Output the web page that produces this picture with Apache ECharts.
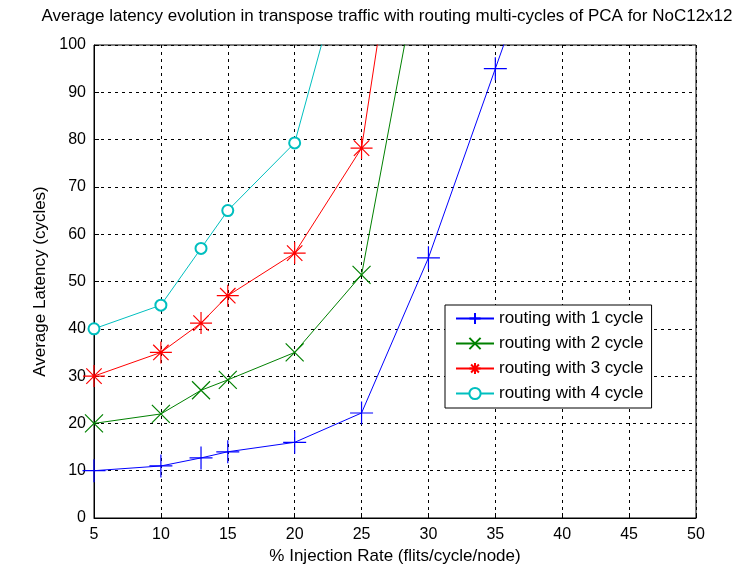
<!DOCTYPE html>
<html>
<head>
<meta charset="utf-8">
<script src="https://cdn.jsdelivr.net/npm/echarts@6/dist/echarts.min.js"></script>
<style>html,body{margin:0;padding:0;background:#fff}#c{width:746px;height:570px}</style>
</head>
<body>
<div id="c"></div>
<script>
const titleText = 'Average latency evolution in transpose traffic with routing multi-cycles of PCA for NoC12x12';
const xName = '% Injection Rate (flits/cycle/node)';
const yName = 'Average Latency (cycles)';
const seriesNames = ['routing with 1 cycle', 'routing with 2 cycle', 'routing with 3 cycle', 'routing with 4 cycle'];
const x1 = [5, 10, 13, 15, 20, 25, 30, 35, 40];
const y1 = [10, 11, 12.7, 14, 16, 22.2, 55, 95, 135];
const x2 = [5, 10, 13, 15, 20, 25, 30];
const y2 = [20, 22, 27, 29.2, 35, 51.4, 127];
const x3 = [5, 10, 13, 15, 20, 25, 30];
const y3 = [30, 35, 41.2, 47, 56, 78.2, 171];
const x4 = [5, 10, 13, 15, 20, 25];
const y4 = [40, 45, 57, 65, 79.3, 131];

const colors = ['#0000ff', '#008000', '#ff0000', '#00bfbf'];
const symbols = [
  'path://M5,0L5,10M0,5L10,5',
  'path://M0,0L10,10M10,0L0,10',
  'path://M5,0L5,10M0,5L10,5M1.5,1.5L8.5,8.5M8.5,1.5L1.5,8.5',
  'emptyCircle'
];
const sizes = [23, 18, 22, 11];
const xs = [x1, x2, x3, x4];
const ys = [y1, y2, y3, y4];

const FONT = 'Liberation Sans, Arial, sans-serif';
const chart = echarts.init(document.getElementById('c'), null, {renderer: 'canvas'});
chart.setOption({
  animation: false,
  backgroundColor: '#fff',
  title: {
    text: titleText,
    left: 382, top: 3, textAlign: 'center',
    textStyle: {fontFamily: FONT, fontSize: 17, fontWeight: 'normal', color: '#000'}
  },
  grid: {left: 94, right: 50, top: 45, bottom: 52, show: true, borderColor: '#000', borderWidth: 1, backgroundColor: 'transparent'},
  legend: {
    orient: 'vertical', left: 445, top: 305,
    backgroundColor: '#fff', borderColor: '#000', borderWidth: 1,
    padding: [5, 8, 6, 10],
    itemWidth: 38, itemHeight: 14, itemGap: 8,
    textStyle: {fontFamily: FONT, fontSize: 17, color: '#000', lineHeight: 14},
    data: seriesNames
  },
  xAxis: {
    type: 'value', min: 5, max: 50, interval: 5,
    name: xName, nameLocation: 'middle', nameGap: 30,
    nameTextStyle: {fontFamily: FONT, fontSize: 17, color: '#000'},
    axisLine: {lineStyle: {color: '#000', width: 1}},
    axisTick: {inside: true, length: 5, lineStyle: {color: '#000'}},
    axisLabel: {fontFamily: FONT, fontSize: 16, color: '#000', margin: 9},
    splitLine: {show: true, lineStyle: {color: '#000', type: [3, 4], width: 1}}
  },
  yAxis: {
    type: 'value', min: 0, max: 100, interval: 10,
    name: yName, nameLocation: 'middle', nameGap: 38, nameRotate: 90,
    nameTextStyle: {fontFamily: FONT, fontSize: 17, color: '#000'},
    axisLine: {lineStyle: {color: '#000', width: 1}},
    axisTick: {inside: true, length: 5, lineStyle: {color: '#000'}},
    axisLabel: {fontFamily: FONT, fontSize: 16, color: '#000', margin: 8},
    splitLine: {show: true, lineStyle: {color: '#000', type: [3, 4], width: 1}}
  },
  series: seriesNames.map((n, i) => ({
    name: n, type: 'line',
    data: xs[i].map((x, j) => [x, ys[i][j]]),
    color: colors[i],
    symbol: symbols[i], symbolSize: sizes[i],
    showAllSymbol: true,
    clip: true,
    lineStyle: {color: colors[i], width: 1},
    itemStyle: {color: colors[i], borderColor: colors[i], borderWidth: 1.2},
    z: 10 - i
  }))
});
</script>
</body>
</html>
